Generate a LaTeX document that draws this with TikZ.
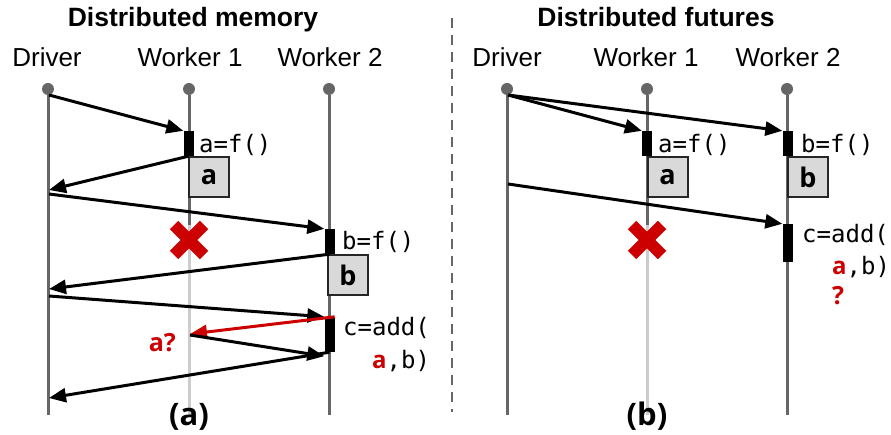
\documentclass[tikz,border=0pt]{standalone}
\usepackage{fontspec}
\setmainfont{Liberation Sans}
\newfontfamily\codefont{DejaVu Sans Mono}
\newfontfamily\osans{Open Sans}
\usetikzlibrary{arrows.meta}
\definecolor{lifegray}{HTML}{666666}
\definecolor{deadgray}{HTML}{CCCCCC}
\definecolor{objfill}{HTML}{D9D9D9}
\definecolor{errred}{HTML}{CC0000}
\tikzset{
  lifeline/.style={draw=lifegray, line width=3},
  deadline/.style={draw=deadgray, line width=3},
  startdot/.style={circle, fill=lifegray, inner sep=0, minimum size=12},
  msg/.style={draw=black, line width=3, -{Triangle[length=17,width=14]}},
  errmsg/.style={msg, draw=errred, -{Triangle[length=17,width=14,fill=errred]}},
  actbar/.style={fill=black, draw=none, inner sep=0, minimum width=10},
  objbox/.style={draw=black!85, line width=2, fill=objfill, minimum width=40, minimum height=40, inner sep=0,
    font=\osans\bfseries\fontsize{27}{30}\selectfont},
  procname/.style={font=\fontsize{26}{30}\selectfont, inner sep=0, anchor=base},
  paneltitle/.style={font=\bfseries\fontsize{26.5}{30}\selectfont, inner sep=0, anchor=base},
  code/.style={font=\codefont\fontsize{24}{28}\selectfont, inner sep=0, anchor=base west},
  caption/.style={font=\osans\bfseries\fontsize{31}{34}\selectfont, inner sep=0, anchor=base},
  redtext/.style={text=errred, font=\osans\bfseries\fontsize{25}{28}\selectfont, inner sep=0},
  crash/.style={draw=errred, line width=12}
}
\begin{document}
\begin{tikzpicture}[x=1pt, y=-1pt]
\useasboundingbox (0,0) rectangle (891,435);

% ---------------- panel (a): distributed memory ----------------
\node[paneltitle] (titleA) at (193,27) {Distributed memory};
\node[procname] (lblAD) at (47,67) {Driver};
\node[procname] (lblAW1) at (190,67) {Worker 1};
\node[procname] (lblAW2) at (330,67) {Worker 2};

\node[startdot] (dotAD) at (48,89) {};
\node[startdot] (dotAW1) at (189,89) {};
\node[startdot] (dotAW2) at (329,89) {};
\coordinate (endAD) at (48,415);
\coordinate (crashAW1) at (189,225);
\coordinate (endAW1) at (189,415);
\coordinate (endAW2) at (329,415);

\draw[deadline] (crashAW1) -- (endAW1);
\draw[lifeline] (dotAD) -- (endAD);
\draw[lifeline] (dotAW1) -- (crashAW1);
\draw[lifeline] (dotAW2) -- (endAW2);

% activation bars
\node[actbar, minimum height=25] (barA1) at (188.5,143.5) {};
\node[actbar, minimum height=25] (barA2) at (329.5,241.5) {};
\node[actbar, minimum height=35] (barA3) at (329.5,334.5) {};

% results held in worker memory
\node[objbox] (objAa) at (209,177) {a};
\node[objbox] (objAb) at (348,275) {b};

% lifeline attachment points
\coordinate (aD1) at (49,95);
\coordinate (aD2) at (49,190);
\coordinate (aD3) at (49,194);
\coordinate (aD4) at (49,289);
\coordinate (aD5) at (49,296);
\coordinate (aD6) at (49,398);
\coordinate (aW1q) at (190,334);
\coordinate (aW1r) at (190,335);

\draw[msg] (aD1) -- (barA1.north west);
\draw[msg] (barA1.south) -- (aD2);
\draw[msg] (aD3) -- (barA2.north west);
\draw[msg] (barA2.south) -- (aD4);
\draw[msg] (aD5) -- (barA3.north west);
\draw[errmsg] (barA3.north east) -- (aW1q);
\draw[msg] (aW1r) -- ([yshift=-4]barA3.south west);
\draw[msg] (barA3.south) -- (aD6);

% worker 1 fails
\node[inner sep=0] (xA) at (189,240) {};
\draw[crash] ([shift={(-15,-15)}]xA.center) -- ([shift={(15,15)}]xA.center);
\draw[crash] ([shift={(-15,15)}]xA.center) -- ([shift={(15,-15)}]xA.center);

\node[code] (codeA1) at (199,153) {a=f()};
\node[code] (codeA2) at (342,250) {b=f()};
\node[code] (codeA3) at (343,336) {c=add(};
\node[code] (codeA4) at (372,368) {{\color{errred}\osans\bfseries a},b)};
\node[redtext, anchor=base east] (askA) at (176,352) {a?};

\node[caption] (capA) at (189,425) {(a)};

% separator
\draw[lifegray, line width=2.5, dash pattern=on 10 off 7] (452,18) -- (452,412);

% ---------------- panel (b): distributed futures ----------------
\node[paneltitle] (titleB) at (656,27) {Distributed futures};
\node[procname] (lblBD) at (507,67) {Driver};
\node[procname] (lblBW1) at (646,67) {Worker 1};
\node[procname] (lblBW2) at (788,67) {Worker 2};

\node[startdot] (dotBD) at (507,89) {};
\node[startdot] (dotBW1) at (647,89) {};
\node[startdot] (dotBW2) at (787,89) {};
\coordinate (endBD) at (507,415);
\coordinate (crashBW1) at (647,225);
\coordinate (endBW1) at (647,415);
\coordinate (endBW2) at (787,415);

\draw[deadline] (crashBW1) -- (endBW1);
\draw[lifeline] (dotBD) -- (endBD);
\draw[lifeline] (dotBW1) -- (crashBW1);
\draw[lifeline] (dotBW2) -- (endBW2);

\node[actbar, minimum height=25] (barB1) at (647,143.5) {};
\node[actbar, minimum height=25] (barB2) at (787.5,143.5) {};
\node[actbar, minimum height=38] (barB3) at (787.5,243) {};

\node[objbox] (objBa) at (667.5,177) {a};
\node[objbox] (objBb) at (808,177) {b};

\coordinate (bD1) at (508,95);
\coordinate (bD2) at (508,184);

\draw[msg] (bD1) -- (barB1.north west);
\draw[msg] (bD1) -- (barB2.north west);
\draw[msg] (bD2) -- (barB3.north west);

\node[inner sep=0] (xB) at (647,240) {};
\draw[crash] ([shift={(-15,-15)}]xB.center) -- ([shift={(15,15)}]xB.center);
\draw[crash] ([shift={(-15,15)}]xB.center) -- ([shift={(15,-15)}]xB.center);

\node[code] (codeB1) at (658,153) {a=f()};
\node[code] (codeB2) at (801,153) {b=f()};
\node[code] (codeB3) at (802,243) {c=add(};
\node[code] (codeB4) at (832,275) {{\color{errred}\osans\bfseries a},b)};
\node[redtext, anchor=base] (askB) at (838,305) {?};

\node[caption] (capB) at (647,425) {(b)};
\end{tikzpicture}
\end{document}
